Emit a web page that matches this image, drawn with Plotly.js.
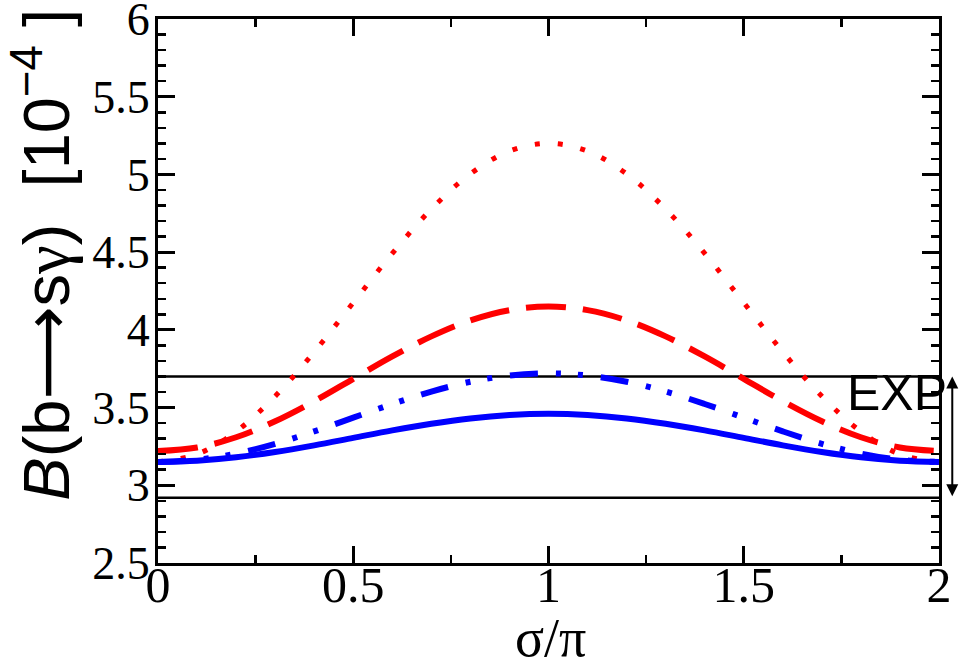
<!DOCTYPE html>
<html>
<head>
<meta charset="utf-8">
<script src="https://cdn.plot.ly/plotly-3.0.1.min.js"></script>
<style>
  body { margin: 0; background: #fff; }
  #chart { width: 959px; height: 660px; }
</style>
</head>
<body>
<div id="chart"></div>
<script>
// sigma / pi
let sigma = [0, 0.1, 0.2, 0.3, 0.4, 0.5, 0.6, 0.7, 0.8, 0.9, 1.0,
             1.1, 1.2, 1.3, 1.4, 1.5, 1.6, 1.7, 1.8, 1.9, 2.0];

// B(b -> s gamma) in units of 10^-4
let red_dotted = [3.150, 3.200, 3.346, 3.573, 3.858, 4.175, 4.492, 4.777, 5.004, 5.150, 5.200,
                  5.150, 5.004, 4.777, 4.492, 4.175, 3.858, 3.573, 3.346, 3.200, 3.150];
let red_dashed = [3.220, 3.243, 3.309, 3.412, 3.541, 3.685, 3.829, 3.958, 4.061, 4.127, 4.150,
                  4.127, 4.061, 3.958, 3.829, 3.685, 3.541, 3.412, 3.309, 3.243, 3.220];
let blue_dashdot = [3.150, 3.164, 3.204, 3.267, 3.347, 3.435, 3.523, 3.603, 3.666, 3.706, 3.720,
                    3.706, 3.666, 3.603, 3.523, 3.435, 3.347, 3.267, 3.204, 3.164, 3.150];
let blue_solid = [3.150, 3.158, 3.180, 3.214, 3.257, 3.305, 3.353, 3.396, 3.430, 3.452, 3.460,
                  3.452, 3.430, 3.396, 3.353, 3.305, 3.257, 3.214, 3.180, 3.158, 3.150];

// experimental band
let exp_x = [0, 2];
let exp_high = 3.70;
let exp_low = 2.92;

let x_ticks = [0, 0.5, 1, 1.5, 2];
let x_tick_labels = ["0", "0.5", "1", "1.5", "2"];
let y_ticks = [2.5, 3, 3.5, 4, 4.5, 5, 5.5, 6];
let y_tick_labels = ["2.5", "3", "3.5", "4", "4.5", "5", "5.5", "6"];

let band_top = {
    x: exp_x, y: [exp_high, exp_high], mode: 'lines',
    line: { color: 'black', width: 2.5 }, hoverinfo: 'skip'
};
let band_bottom = {
    x: exp_x, y: [exp_low, exp_low], mode: 'lines',
    line: { color: 'black', width: 2.5 }, hoverinfo: 'skip'
};
let dotted = {
    x: sigma, y: red_dotted, mode: 'lines',
    line: { color: '#ff0000', width: 5, dash: '5px,18px', shape: 'spline' }
};
let dashed = {
    x: sigma, y: red_dashed, mode: 'lines',
    line: { color: '#ff0000', width: 6, dash: '40px,17px', shape: 'spline' }
};
let dashdot = {
    x: sigma, y: blue_dashdot, mode: 'lines',
    line: { color: '#0000ff', width: 6, dash: '28px,18px,5px,17px,5px,18px', shape: 'spline' }
};
let solid = {
    x: sigma, y: blue_solid, mode: 'lines',
    line: { color: '#0000ff', width: 6, shape: 'spline' }
};

let data = [band_top, band_bottom, dotted, dashed, dashdot, solid];

let serif = 'Liberation Serif, DejaVu Serif, serif';
let sans = 'Liberation Sans, Arial, sans-serif';

let layout = {
    width: 959,
    height: 660,
    margin: { l: 158, r: 20, t: 19, b: 97 },
    paper_bgcolor: 'white',
    plot_bgcolor: 'white',
    showlegend: false,
    xaxis: {
        range: [0, 2],
        tickvals: x_ticks, ticktext: x_tick_labels,
        ticks: 'inside', ticklen: 17, tickwidth: 3, tickcolor: 'black',
        minor: { dtick: 0.25, ticks: 'inside', ticklen: 8, tickwidth: 2.5, tickcolor: 'black', showgrid: false },
        showline: true, linewidth: 3, linecolor: 'black', mirror: 'allticks',
        showgrid: false, zeroline: false,
        ticklabeloverflow: 'allow',
        ticklabelstandoff: -24,
        tickfont: { family: serif, size: 50, color: 'black' }
    },
    yaxis: {
        range: [2.5, 6],
        tickvals: y_ticks, ticktext: y_tick_labels,
        ticks: 'inside', ticklen: 17, tickwidth: 3, tickcolor: 'black',
        minor: { dtick: 0.1, ticks: 'inside', ticklen: 8, tickwidth: 2.5, tickcolor: 'black', showgrid: false },
        showline: true, linewidth: 3, linecolor: 'black', mirror: 'allticks',
        showgrid: false, zeroline: false,
        ticklabeloverflow: 'allow',
        ticklabelstandoff: -4,
        tickfont: { family: serif, size: 46, color: 'black' }
    },
    annotations: [
        {
            xref: 'paper', yref: 'paper',
            x: -0.149, y: 0.566,
            xanchor: 'center', yanchor: 'middle',
            textangle: -90,
            text: '<i>B</i>(b<span style="font-family:DejaVu Sans">\u27f6</span>s<span style="font-family:Liberation Serif">\u03b3</span>)\u00a0\u00a0[10<sup>\u22124</sup>\u00a0]',
            font: { family: sans, size: 65, color: 'black' },
            showarrow: false
        },
        {
            xref: 'paper', yref: 'paper',
            x: 0.502, y: -0.137,
            xanchor: 'center', yanchor: 'middle',
            text: '\u03c3/\u03c0',
            font: { family: serif, size: 54, color: 'black' },
            showarrow: false
        },
        {
            xref: 'paper', yref: 'y',
            x: 0.946, y: 3.595,
            xanchor: 'center', yanchor: 'middle',
            text: 'EXP',
            font: { family: sans, size: 50, color: 'black' },
            showarrow: false
        },
        {
            xref: 'paper', yref: 'y',
            x: 1.017, y: exp_high,
            axref: 'pixel', ayref: 'y',
            ax: 0, ay: exp_low,
            text: '',
            showarrow: true,
            arrowside: 'end+start',
            arrowhead: 2, startarrowhead: 2,
            arrowsize: 1.2, startarrowsize: 1.2,
            arrowwidth: 2, arrowcolor: 'black'
        }
    ]
};

Plotly.newPlot('chart', data, layout, { staticPlot: true });
</script>
</body>
</html>
